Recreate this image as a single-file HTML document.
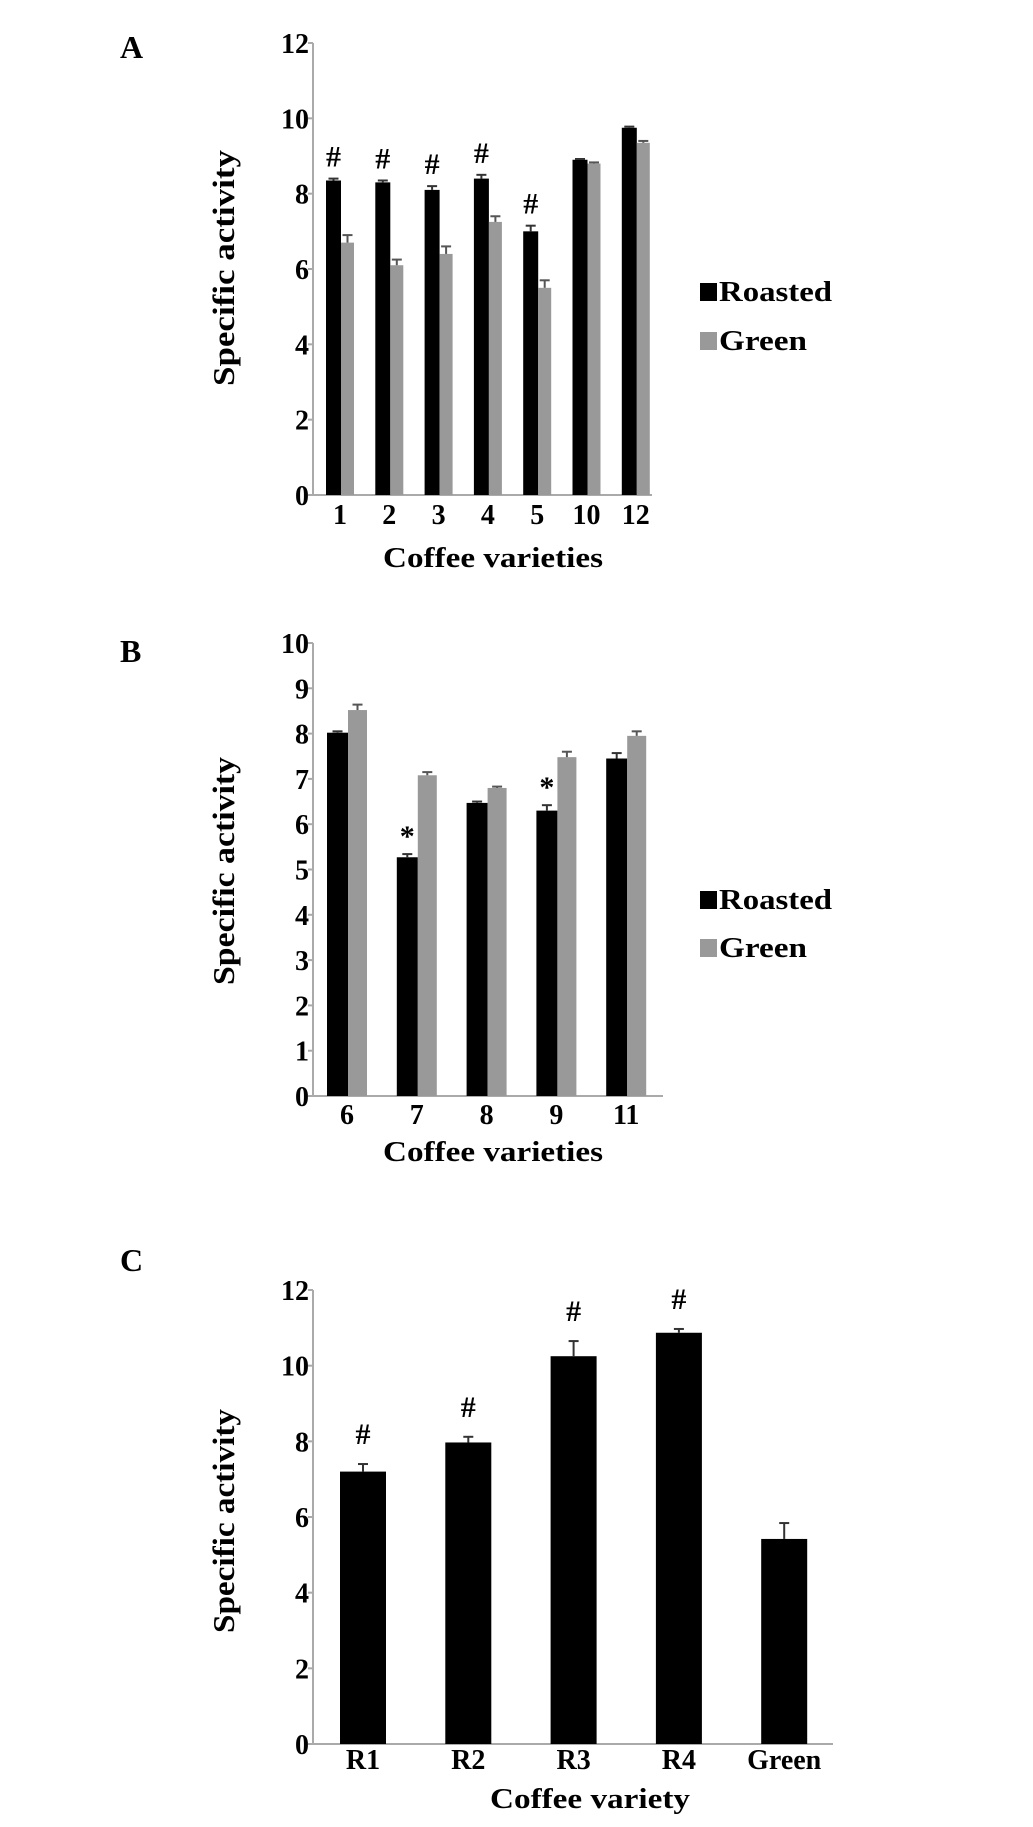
<!DOCTYPE html>
<html><head><meta charset="utf-8"><style>
html,body{margin:0;padding:0;background:#fff}
svg{display:block}
text{font-family:"Liberation Serif",serif;font-weight:bold;fill:#000}
</style></head><body>
<svg id="fig" width="1033" height="1827" viewBox="0 0 1033 1827" xmlns="http://www.w3.org/2000/svg"></svg>
<script>
// Panel A data
const catsA = ["1","2","3","4","5","10","12"];
const roastA = [8.35,8.3,8.1,8.4,7.0,8.9,9.75];
const roastErrA = [0.05,0.05,0.1,0.1,0.15,0.02,0.03];
const greenA = [6.7,6.1,6.4,7.25,5.5,8.8,9.35];
const greenErrA = [0.2,0.15,0.2,0.15,0.2,0.03,0.05];
const markA = ["#","#","#","#","#","",""];
const ticksA = [0,2,4,6,8,10,12];
// Panel B data
const catsB = ["6","7","8","9","11"];
const roastB = [8.02,5.27,6.47,6.3,7.45];
const roastErrB = [0.03,0.07,0.03,0.12,0.12];
const greenB = [8.52,7.08,6.8,7.48,7.95];
const greenErrB = [0.12,0.07,0.03,0.12,0.1];
const markB = ["","*","","*",""];
const ticksB = [0,1,2,3,4,5,6,7,8,9,10];
// Panel C data
const catsC = ["R1","R2","R3","R4","Green"];
const valsC = [7.2,7.97,10.25,10.87,5.42];
const errC = [0.2,0.15,0.4,0.1,0.42];
const markC = ["#","#","#","#",""];
const ticksC = [0,2,4,6,8,10,12];

const svg = document.getElementById('fig');
const NS = "http://www.w3.org/2000/svg";
function mk(tag, attrs, txt){
  const e = document.createElementNS(NS, tag);
  for (const k in attrs) e.setAttribute(k, attrs[k]);
  if (txt !== undefined) e.textContent = txt;
  svg.appendChild(e);
  return e;
}

function panel(cfg){
  const y = v => cfg.y0 - (v / cfg.max) * (cfg.y0 - cfg.yTop);
  let e = mk('line',{x1:cfg.ax,y1:cfg.yTop,x2:cfg.ax,y2:cfg.y0,stroke:'#aaa','stroke-width':2});
  
  
  e = mk('line',{x1:cfg.ax,y1:cfg.y0,x2:cfg.axEnd,y2:cfg.y0,stroke:'#aaa','stroke-width':2});
  
  
  cfg.ticks.forEach(t=>{
    mk('line',{x1:cfg.ax-5,y1:y(t),x2:cfg.ax,y2:y(t),stroke:'#aaa','stroke-width':2});
    e = mk('text',{x:cfg.ax-4,y:y(t)+10,'text-anchor':'end','font-size':28}, String(t));
    
    
  });
  cfg.cats.forEach((c,i)=>{
    const left = cfg.firstLeft + cfg.step*i;
    const v1 = cfg.s1[i];
    e = mk('rect',{x:left,y:y(v1),width:cfg.w1,height:cfg.y0-y(v1),fill:'#000'});
    
    
    const ex1 = left+cfg.w1/2, et1 = y(v1+cfg.e1[i]);
    mk('line',{x1:ex1,y1:y(v1),x2:ex1,y2:et1,stroke:'#333','stroke-width':2});
    mk('line',{x1:ex1-5,y1:et1,x2:ex1+5,y2:et1,stroke:'#333','stroke-width':2});
    const top = et1;
    let labelCenter = left + cfg.w1/2;
    if (cfg.s2){
      const v2 = cfg.s2[i], l2 = left+cfg.w1;
      e = mk('rect',{x:l2,y:y(v2),width:cfg.w2,height:cfg.y0-y(v2),fill:'#999'});
      
      
      const ex2 = l2+cfg.w2/2, et2 = y(v2+cfg.e2[i]);
      mk('line',{x1:ex2,y1:y(v2),x2:ex2,y2:et2,stroke:'#555','stroke-width':2});
      mk('line',{x1:ex2-5,y1:et2,x2:ex2+5,y2:et2,stroke:'#555','stroke-width':2});
      labelCenter = left + (cfg.w1+cfg.w2)/2;
    }
    if (cfg.marks[i]){
      e = mk('text',{x:left+cfg.w1/2,y:top-cfg.markGap,'text-anchor':'middle','font-size':cfg.markSize,'font-weight':'normal'}, cfg.marks[i]);
      
      
    }
    e = mk('text',{x:labelCenter,y:cfg.tickBase,'text-anchor':'middle','font-size':28}, c);
    
    
  });
  e = mk('text',{x:cfg.xtX,y:cfg.xtY,'text-anchor':'middle','font-size':29,textLength:cfg.xtLen,lengthAdjust:'spacingAndGlyphs'}, cfg.xTitle);
  
  
  e = mk('text',{x:0,y:0,'text-anchor':'middle','font-size':31,textLength:cfg.ytLen,lengthAdjust:'spacingAndGlyphs',transform:'translate(234,'+cfg.ytY+') rotate(-90)'}, 'Specific activity');
  
  
  e = mk('text',{x:120,y:cfg.letterY,'font-size':32}, cfg.letter);
  
  
  if (cfg.legY){
    e = mk('rect',{x:700,y:cfg.legY-18,width:17,height:18,fill:'#000'});
    
    
    e = mk('text',{x:719,y:cfg.legY,'font-size':29,textLength:113,lengthAdjust:'spacingAndGlyphs'}, 'Roasted');
    
    
    e = mk('rect',{x:700,y:cfg.legY2-18,width:17,height:18,fill:'#999'});
    
    
    e = mk('text',{x:719,y:cfg.legY2,'font-size':29,textLength:88,lengthAdjust:'spacingAndGlyphs'}, 'Green');
    
    
  }
}

panel({id:'panel-a',letter:'A',letterY:58,ax:313,axEnd:652,yTop:43,y0:495,max:12,ticks:ticksA,
  cats:catsA,s1:roastA,e1:roastErrA,s2:greenA,e2:greenErrA,marks:markA,markGap:12,markSize:30,
  firstLeft:326,step:49.3,w1:15,w2:13,tickBase:524,
  xTitle:'Coffee varieties',xtX:493,xtY:567,xtLen:220,ytY:268,ytLen:236,legY:301,legY2:350});
panel({id:'panel-b',letter:'B',letterY:662,ax:313,axEnd:663,yTop:643,y0:1096,max:10,ticks:ticksB,
  cats:catsB,s1:roastB,e1:roastErrB,s2:greenB,e2:greenErrB,marks:markB,markGap:8,markSize:30,
  firstLeft:327,step:69.8,w1:21,w2:19,tickBase:1124,
  xTitle:'Coffee varieties',xtX:493,xtY:1161,xtLen:220,ytY:871,ytLen:228,legY:909,legY2:957});
panel({id:'panel-c',letter:'C',letterY:1271,ax:313,axEnd:833,yTop:1290,y0:1744,max:12,ticks:ticksC,
  cats:catsC,s1:valsC,e1:errC,s2:null,marks:markC,markGap:20,markSize:30,
  firstLeft:340,step:105.3,w1:46,tickBase:1769,
  xTitle:'Coffee variety',xtX:590,xtY:1808,xtLen:200,ytY:1521,ytLen:224});
</script>
</body></html>
